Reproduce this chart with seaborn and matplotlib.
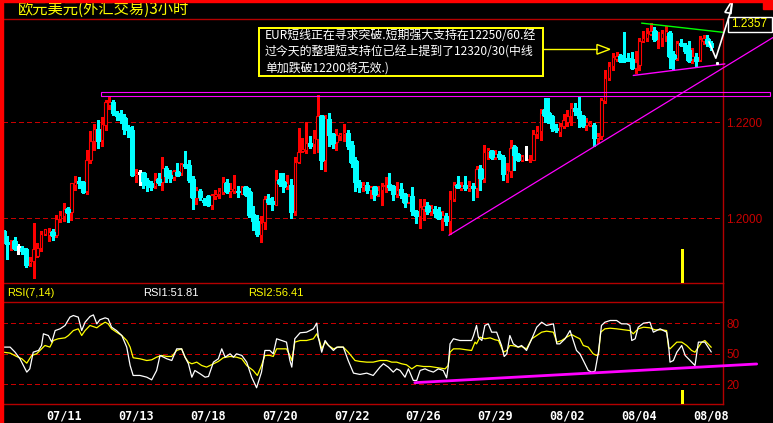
import numpy as np
import pandas as pd
import matplotlib
matplotlib.use("Agg")
import matplotlib.pyplot as plt
import seaborn as sns
from matplotlib.patches import Rectangle, Polygon
from matplotlib.lines import Line2D

# 欧元美元 3小时K线, 单位: 点 (12200 = 1.2200)
opens = [11972, 11951, 11949, 11952, 11939, 11937, 11936, 11906, 11910, 11920,
         11937, 11967, 11965, 11970, 11965, 11998, 12005, 12019, 12012, 12069,
         12078, 12074, 12056, 12120, 12160, 12186, 12163, 12193, 12236, 12242,
         12219, 12213, 12208, 12190, 12184, 12090, 12094, 12094, 12080, 12072,
         12066, 12081, 12076, 12104, 12090, 12085, 12096, 12094, 12113, 12111,
         12082, 12042, 12057, 12037, 12045, 12028, 12045, 12049, 12054, 12073,
         12056, 12056, 12056, 12051, 12065, 12054, 12009, 11993, 11964, 11991,
         12040, 12036, 12028, 12080, 12074, 12067, 12069, 12014, 12117, 12139,
         12142, 12156, 12155, 12165, 12213, 12120, 12206, 12174, 12158, 12170,
         12174, 12177, 12153, 12118, 12076, 12065, 12069, 12058, 12064, 12051,
         12058, 12066, 12069, 12066, 12051, 12061, 12049, 12034, 12045, 12015,
         12004, 12019, 12026, 12014, 12019, 12012, 12001, 12005, 11993, 12040,
         12069, 12063, 12069, 12063, 12066, 12063, 12103, 12083, 12137, 12139,
         12128, 12134, 12128, 12092, 12097, 12147, 12134, 12120, 12124, 12121,
         12121, 12176, 12181, 12226, 12219, 12212, 12188, 12179, 12191, 12201,
         12212, 12229, 12222, 12212, 12194, 12194, 12194, 12167, 12170, 12243,
         12292, 12316, 12332, 12337, 12334, 12334, 12332, 12312, 12318, 12369,
         12374, 12383, 12389, 12372, 12375, 12379, 12385, 12340, 12333, 12365,
         12361, 12350, 12331, 12335, 12330, 12368, 12372, 12365]
highs = [11974, 11963, 11955, 11960, 11946, 11942, 11936, 11918, 11990, 11948,
         11972, 11978, 11979, 11977, 12007, 12014, 12031, 12022, 12073, 12088,
         12085, 12076, 12142, 12182, 12196, 12205, 12210, 12246, 12255, 12246,
         12222, 12226, 12217, 12194, 12192, 12102, 12099, 12096, 12083, 12077,
         12094, 12094, 12127, 12109, 12101, 12101, 12115, 12115, 12140, 12121,
         12087, 12065, 12060, 12042, 12048, 12049, 12059, 12062, 12085, 12081,
         12072, 12090, 12067, 12067, 12066, 12063, 12026, 12007, 12005, 12045,
         12049, 12044, 12099, 12094, 12093, 12090, 12082, 12127, 12188, 12167,
         12200, 12170, 12184, 12257, 12215, 12215, 12219, 12177, 12185, 12177,
         12195, 12184, 12160, 12127, 12080, 12074, 12075, 12066, 12066, 12067,
         12073, 12085, 12093, 12069, 12076, 12072, 12052, 12051, 12065, 12017,
         12040, 12040, 12033, 12028, 12024, 12022, 12014, 12010, 12057, 12076,
         12088, 12074, 12088, 12078, 12072, 12109, 12110, 12153, 12146, 12142,
         12142, 12139, 12131, 12115, 12163, 12153, 12135, 12131, 12149, 12132,
         12184, 12191, 12227, 12250, 12250, 12215, 12196, 12198, 12217, 12226,
         12240, 12240, 12255, 12215, 12208, 12203, 12198, 12177, 12250, 12309,
         12326, 12344, 12346, 12342, 12388, 12344, 12346, 12347, 12375, 12389,
         12396, 12406, 12397, 12388, 12392, 12399, 12389, 12347, 12368, 12372,
         12365, 12368, 12354, 12344, 12379, 12381, 12381, 12368]
lows = [11948, 11915, 11934, 11933, 11924, 11924, 11897, 11901, 11874, 11918,
        11931, 11965, 11953, 11955, 11960, 11991, 11993, 11991, 11996, 12059,
        12062, 12052, 12051, 12115, 12141, 12146, 12151, 12184, 12227, 12215,
        12205, 12198, 12174, 12168, 12088, 12074, 12069, 12062, 12056, 12059,
        12062, 12069, 12058, 12074, 12076, 12080, 12087, 12090, 12104, 12076,
        12019, 12030, 12038, 12028, 12028, 12019, 12040, 12042, 12050, 12052,
        12044, 12052, 12044, 12049, 12045, 12002, 11976, 11962, 11951, 11978,
        12030, 12017, 12028, 12067, 12054, 12060, 12001, 12007, 12115, 12137,
        12135, 12146, 12135, 12137, 12102, 12097, 12151, 12145, 12141, 12163,
        12160, 12144, 12107, 12056, 12054, 12057, 12052, 12041, 12037, 12045,
        12027, 12055, 12059, 12037, 12043, 12042, 12022, 12031, 12007, 11989,
        11980, 11996, 12009, 12007, 12002, 11999, 11976, 11986, 11967, 12035,
        12063, 12059, 12059, 12056, 12037, 12043, 12059, 12076, 12123, 12123,
        12123, 12123, 12080, 12074, 12085, 12101, 12119, 12118, 12120, 12116,
        12121, 12167, 12163, 12201, 12198, 12182, 12180, 12170, 12188, 12191,
        12194, 12215, 12189, 12189, 12184, 12191, 12149, 12156, 12165, 12240,
        12288, 12309, 12328, 12325, 12326, 12327, 12311, 12302, 12309, 12367,
        12368, 12382, 12368, 12354, 12358, 12368, 12312, 12309, 12330, 12358,
        12344, 12326, 12323, 12314, 12328, 12362, 12358, 12351]
closes = [11949, 11946, 11953, 11937, 11939, 11931, 11903, 11910, 11935, 11937,
          11967, 11977, 11971, 11965, 11998, 12007, 12019, 12012, 12072, 12076,
          12072, 12054, 12121, 12161, 12185, 12161, 12196, 12242, 12242, 12219,
          12212, 12207, 12186, 12183, 12090, 12094, 12094, 12078, 12069, 12065,
          12080, 12076, 12104, 12087, 12083, 12097, 12090, 12113, 12109, 12080,
          12043, 12059, 12043, 12033, 12028, 12047, 12051, 12056, 12074, 12056,
          12061, 12063, 12054, 12064, 12051, 12007, 11993, 11967, 11990, 12040,
          12033, 12030, 12080, 12073, 12067, 12073, 12012, 12117, 12137, 12144,
          12156, 12151, 12167, 12213, 12120, 12208, 12172, 12156, 12172, 12176,
          12179, 12149, 12116, 12074, 12065, 12069, 12058, 12064, 12051, 12059,
          12067, 12069, 12065, 12051, 12059, 12047, 12034, 12045, 12014, 12004,
          12022, 12026, 12014, 12021, 12010, 12001, 12007, 11993, 12040, 12069,
          12065, 12067, 12063, 12066, 12062, 12103, 12083, 12137, 12141, 12128,
          12134, 12128, 12092, 12099, 12146, 12131, 12121, 12130, 12124, 12123,
          12176, 12181, 12219, 12215, 12208, 12188, 12183, 12191, 12205, 12212,
          12229, 12222, 12208, 12194, 12200, 12198, 12167, 12170, 12246, 12292,
          12316, 12335, 12337, 12328, 12328, 12330, 12312, 12324, 12368, 12376,
          12385, 12390, 12372, 12376, 12385, 12390, 12337, 12333, 12365, 12360,
          12347, 12330, 12337, 12328, 12372, 12376, 12365, 12357]

# RSI(7) 白线, RSI(14) 黄线 (按K线序号取点)
rsi1_pos = [0, 1.8, 3.1, 4.4, 6.2, 7.0, 7.9, 9.3, 10.1, 10.6,
            11.9, 12.8, 13.7, 15.0, 16.3, 17.6, 18.5, 19.8, 20.7, 21.6,
            22.9, 23.8, 24.7, 25.5, 26.9, 27.7, 28.6, 29.9, 31.3, 32.6,
            33.5, 34.3, 36.1, 37.9, 39.2, 40.5, 41.4, 42.3, 43.2, 44.5,
            45.8, 47.1, 48.0, 48.9, 49.8, 50.6, 52.0, 53.3, 54.2, 55.5,
            56.8, 57.7, 58.6, 59.9, 60.8, 61.6, 63.0, 64.3, 65.6, 66.9,
            68.2, 69.1, 70.4, 71.3, 72.2, 73.5, 74.8, 75.7, 76.2, 77.0,
            78.4, 80.1, 81.9, 82.8, 83.2, 84.1, 85.0, 85.9, 87.2, 88.1,
            89.8, 91.1, 92.5, 94.2, 96.0, 97.7, 99.5, 100.4, 101.7, 103.0,
            103.9, 104.8, 106.1, 107.0, 108.3, 109.2, 110.1, 111.4, 112.3, 113.6,
            114.9, 116.2, 117.1, 117.5, 118.0, 118.9, 120.6, 122.4, 123.7, 124.2,
            125.0, 125.5, 126.4, 127.2, 128.1, 129.0, 130.3, 131.6, 132.3, 133.0,
            133.8, 134.7, 136.0, 136.9, 138.2, 139.6, 140.9, 142.2, 143.5, 145.3,
            146.2, 147.0, 148.4, 149.7, 151.4, 152.3, 153.2, 154.5, 155.4, 156.3,
            157.2, 158.0, 158.9, 160.3, 162.0, 163.3, 164.7, 165.5, 166.0, 166.9,
            167.7, 169.1, 170.8, 171.7, 173.5, 175.2, 175.7, 176.1, 177.0, 177.9,
            179.2, 180.1, 181.4, 182.7, 183.6, 184.5, 185.3, 187.0]
rsi1 = [56.6, 56.6, 51.6, 45.1, 32.0, 35.2, 51.6, 53.3, 58.2, 69.7,
        68.0, 61.5, 72.9, 74.6, 77.9, 86.1, 87.7, 86.1, 72.9, 81.1,
        86.7, 88.3, 79.5, 83.5, 85.4, 84.4, 76.2, 72.9, 68.0, 56.6,
        38.5, 28.7, 28.7, 27.0, 24.4, 33.6, 48.4, 46.7, 45.1, 43.4,
        54.9, 54.9, 46.7, 40.2, 27.0, 33.6, 30.3, 27.0, 27.7, 41.8,
        45.1, 54.9, 46.7, 50.0, 46.7, 50.0, 48.4, 41.8, 27.0, 16.6,
        32.0, 53.3, 53.3, 50.0, 64.8, 63.1, 61.5, 43.4, 36.9, 64.8,
        70.7, 71.3, 74.6, 80.2, 66.4, 51.6, 63.1, 58.2, 53.3, 56.6,
        56.6, 43.4, 31.0, 29.7, 31.0, 28.7, 36.9, 40.2, 36.9, 32.0,
        35.2, 33.6, 27.0, 35.2, 23.8, 23.8, 33.6, 35.2, 33.6, 32.0,
        35.2, 33.6, 26.4, 36.9, 59.8, 64.8, 63.1, 63.1, 63.1, 68.0,
        77.9, 66.4, 63.1, 77.9, 79.5, 71.3, 71.3, 58.2, 47.4, 50.0,
        68.0, 59.8, 56.6, 58.2, 53.3, 64.8, 76.2, 81.1, 77.9, 79.5,
        59.8, 59.8, 64.8, 72.9, 53.3, 50.0, 43.4, 33.6, 32.0, 32.9,
        51.6, 77.9, 81.1, 82.8, 82.8, 79.5, 79.5, 77.9, 63.1, 64.8,
        76.2, 80.2, 81.1, 71.3, 74.6, 71.3, 59.8, 41.8, 43.4, 51.6,
        58.2, 48.4, 43.4, 38.5, 61.5, 61.5, 61.5, 51.81]
rsi2_pos = [0, 1.8, 3.5, 4.9, 6.2, 7.5, 8.8, 10.1, 11.0, 12.3,
            13.2, 14.5, 16.3, 17.2, 18.5, 19.8, 20.7, 21.6, 22.9, 24.7,
            25.5, 26.9, 27.7, 28.6, 29.9, 31.3, 32.6, 33.5, 34.3, 36.1,
            37.9, 39.2, 40.5, 41.8, 43.2, 44.5, 45.8, 47.1, 48.0, 48.9,
            49.8, 51.1, 52.4, 53.7, 55.5, 56.8, 58.1, 59.9, 61.6, 63.0,
            64.3, 66.0, 67.1, 68.2, 69.1, 70.4, 71.3, 72.2, 73.5, 74.8,
            75.7, 76.2, 77.0, 78.4, 80.1, 81.9, 82.8, 83.5, 84.1, 85.0,
            85.9, 87.2, 88.5, 89.8, 91.1, 92.9, 94.2, 96.0, 97.7, 99.5,
            101.3, 102.6, 103.9, 105.2, 106.5, 107.9, 109.2, 111.0, 112.7, 114.9,
            116.7, 117.5, 118.0, 118.9, 120.6, 122.4, 123.7, 124.6, 125.0, 125.9,
            127.2, 128.6, 129.9, 130.8, 132.1, 133.0, 133.8, 134.7, 136.0, 136.9,
            138.2, 139.6, 140.9, 142.2, 143.5, 145.3, 146.2, 147.5, 148.8, 150.1,
            151.4, 152.3, 153.2, 154.5, 155.8, 156.7, 157.2, 157.8, 158.9, 160.3,
            162.0, 164.2, 165.5, 166.4, 167.7, 169.1, 170.8, 172.1, 173.9, 175.2,
            175.7, 176.1, 177.9, 179.2, 180.5, 181.8, 182.7, 183.6, 184.5, 185.3,
            187.0]
rsi2 = [51.6, 50.7, 47.4, 45.1, 40.8, 48.4, 50.0, 54.9, 58.2, 56.6,
        63.1, 64.8, 65.7, 68.0, 72.9, 74.6, 68.0, 72.9, 77.9, 75.6,
        77.9, 81.1, 79.5, 74.6, 71.3, 68.0, 63.1, 56.6, 46.1, 45.1,
        43.4, 44.1, 46.7, 48.4, 47.4, 47.4, 53.3, 54.9, 46.7, 41.8,
        40.2, 41.8, 38.5, 36.9, 40.2, 42.5, 46.1, 47.4, 46.7, 45.1,
        38.5, 33.6, 28.7, 38.5, 48.4, 48.4, 47.4, 54.9, 54.9, 54.9,
        48.4, 43.4, 61.5, 63.1, 63.1, 64.8, 69.7, 63.1, 54.9, 61.5,
        58.2, 54.9, 56.6, 56.6, 51.6, 43.4, 42.5, 41.8, 41.8, 43.4,
        43.4, 41.8, 41.8, 40.2, 39.2, 35.2, 38.5, 37.5, 37.5, 36.2,
        35.2, 38.5, 51.6, 54.9, 54.9, 53.9, 53.3, 61.5, 59.8, 66.4,
        64.8, 65.7, 63.8, 63.1, 51.6, 53.3, 58.2, 57.9, 56.6, 57.2,
        54.9, 64.8, 68.0, 71.3, 72.3, 71.3, 61.5, 63.1, 66.4, 69.0,
        66.4, 64.8, 58.2, 56.6, 50.0, 48.4, 49.3, 71.3, 74.6, 75.2,
        74.6, 73.6, 72.9, 69.7, 74.6, 76.2, 75.6, 73.6, 73.6, 72.9,
        56.6, 54.9, 61.5, 61.5, 58.2, 53.3, 51.6, 56.6, 61.5, 63.1,
        56.41]

date_pos = [16, 35, 54, 73, 92, 111, 130, 149, 168, 187]
date_labels = ['07/11', '07/13', '07/18', '07/20', '07/22',
               '07/26', '07/29', '08/02', '08/04', '08/08']

# 画线 (K线序号, 点)
support_band = (25.8, 202.5, 12255, 12262)
trend_x, trend_y = [117.7, 203.3], [11964, 12376]
tri_top_x, tri_top_y = [168.6, 190.0], [12406, 12387]
tri_bot_x, tri_bot_y = [166.4, 190.6], [12297, 12321]
rsi_trend_x, rsi_trend_y = [108.7, 199.0], [21.6, 40.0]
cursor_pos = 179.3
arrow_x = [186.4, 188.2, 190.4, 192.0, 192.6]
arrow_y = [12367, 12333, 12388, 12427, 12454]

note_lines = ['EUR短线正在寻求突破.短期强大支持在12250/60.经',
              '过今天的整理短支持位已经上提到了12320/30(中线',
              '单加跌破12200将无效.)']
last_price = '1.2357'

sns.set_style('dark', {'axes.facecolor': 'black', 'figure.facecolor': 'black'})
plt.rcParams['font.family'] = ['Liberation Sans', 'DejaVu Sans']
cjk = ['Noto Sans CJK SC', 'DejaVu Sans']

W, H = 773, 423
fig = plt.figure(figsize=(W / 100, H / 100), dpi=100)
fig.patch.set_facecolor('black')
ax = fig.add_axes([3 / W, 1 - 283 / H, 720 / W, 264 / H])
ax2 = fig.add_axes([3 / W, 1 - 404 / H, 720 / W, 102 / H])

dk = '#b40000'
grid_c = '#c80000'
RED, CYAN, MAG, YEL = '#ff0000', '#00ffff', '#ff00ff', '#ffff00'

# K线: 阳线空心红, 阴线实心青, 十字星白
df = pd.DataFrame({'o': opens, 'h': highs, 'l': lows, 'c': closes}) / 10000
df['i'] = np.arange(len(df))
col = np.where(df.c > df.o, RED, np.where(df.c < df.o, CYAN, '#ffffff'))
df['col'] = col
df['bot'] = df[['o', 'c']].min(axis=1)
df['ht'] = (df.c - df.o).abs()
ax.vlines(df.i, df.l, df.h, colors=list(col), lw=0.8, zorder=2, antialiased=False)
up = df[df.c > df.o]
dn = df[df.c <= df.o]
ax.bar(up.i, up.ht, bottom=up.bot, width=0.64, color='black', edgecolor=list(up.col),
       linewidth=0.8, zorder=3)
ax.bar(dn.i, dn.ht, bottom=dn.bot, width=0.64, color=list(dn.col), edgecolor=list(dn.col),
       linewidth=0.8, zorder=3, antialiased=False)

for y in (1.20, 1.22):
    ax.axhline(y, color=grid_c, lw=0.8, ls=(0, (4, 3)), zorder=1, antialiased=False)

# 支撑线
x0, x1, lo, hi = support_band
ax.add_patch(Rectangle((x0, lo / 1e4), x1 - x0, (hi - lo) / 1e4, fill=False,
                       ec=MAG, lw=0.8, clip_on=False, zorder=4))
ax.plot(trend_x, np.array(trend_y) / 1e4, color=MAG, lw=0.9, clip_on=False, zorder=4)
ax.plot(tri_top_x, np.array(tri_top_y) / 1e4, color='#00ff00', lw=1, clip_on=False, zorder=4)
ax.plot(tri_bot_x, np.array(tri_bot_y) / 1e4, color=MAG, lw=1, clip_on=False, zorder=4)
ax.vlines(cursor_pos, 1.18646, 1.19354, color=YEL, lw=1, zorder=4, antialiased=False)

# 说明框
ax.add_patch(Rectangle((67.5, 1.22958), 75.1, 0.00994, fill=False, ec=YEL, lw=1.2, zorder=5,
                       antialiased=False))
for line, y in zip(note_lines, [1.23812, 1.23465, 1.23119]):
    ax.text(69.1, y, line, color='white', fontsize=8.6, va='center', ha='left',
            family=cjk, zorder=6)
ax.plot([142.6, 156.8], [1.23515, 1.23515], color=YEL, lw=1, zorder=5)
ax.add_patch(Polygon([(156.8, 1.23615), (160.2, 1.23515), (156.8, 1.23413)], closed=True,
                     fill=False, ec=YEL, lw=1, zorder=5))

# 最新价
ax.add_patch(Rectangle((191.4, 1.23881), 11.6, 0.00313, fc='black', ec='white', lw=1,
                       clip_on=False, zorder=6))
ax.text(192.2, 1.24037, last_price, color=YEL, fontsize=8.5, va='center', ha='left',
        clip_on=False, zorder=7)

# 手绘箭头
ax.plot(arrow_x, np.array(arrow_y) / 1e4, color='white', lw=1.2, clip_on=False, zorder=8)
ax.add_patch(Polygon([(192.6, 1.24542), (190.6, 1.24285), (192.2, 1.24265)], closed=True,
                     fill=False, ec='white', lw=1.2, clip_on=False, zorder=8))
ax.plot([188.4], [1.23235], 's', color='white', ms=1.2, clip_on=False, zorder=8)

ax.set_ylim(1.18646, 1.24146)
ax.set_yticks([1.20, 1.22])
ax.set_yticklabels(['1.2000', '1.2200'])
ax.set_xticks([])

# RSI
for y in (20, 50, 80):
    ax2.axhline(y, color=grid_c, lw=0.8, ls=(0, (4, 3)), zorder=1, antialiased=False)
sns.lineplot(x=rsi2_pos, y=rsi2, ax=ax2, color=YEL, lw=0.9, estimator=None, sort=False, zorder=2)
sns.lineplot(x=rsi1_pos, y=rsi1, ax=ax2, color='white', lw=0.9, estimator=None, sort=False, zorder=3)
ax2.plot(rsi_trend_x, rsi_trend_y, color=MAG, lw=2, clip_on=False, zorder=4)
ax2.vlines(cursor_pos, 0.6, 14.4, color=YEL, lw=1, zorder=4, antialiased=False)
ax2.set_ylim(0.6, 101)
ax2.set_yticks([20, 50, 80])
ax2.set_xticks(date_pos)
ax2.set_xticklabels(date_labels)
ax2.set_xlabel('')
ax2.set_ylabel('')
ax2.tick_params(axis='x', length=0, pad=4, labelcolor='white', labelsize=8.5)
for t in ax2.get_xticklabels():
    t.set_fontfamily('DejaVu Sans Mono')
    t.set_fontweight('bold')

for a in (ax, ax2):
    a.set_facecolor('black')
    a.grid(False)
    a.set_xlim(-0.08, 190.1)
    for s in a.spines.values():
        s.set_color(dk)
        s.set_linewidth(1)
    a.spines['left'].set_visible(False)
    a.yaxis.tick_right()
    a.tick_params(axis='y', length=0, pad=2.5, labelcolor=grid_c, labelsize=8.5)

# 边框与标题
fig.add_artist(Rectangle((0, 0), 3 / W, 1, transform=fig.transFigure, color=RED, zorder=10))
fig.add_artist(Rectangle((0, 1 - 2 / H), 1, 2 / H, transform=fig.transFigure, color=RED, zorder=10))
fig.add_artist(Rectangle((763 / W, 1 - 9 / H), 10 / W, 9 / H, transform=fig.transFigure,
                         color=RED, zorder=10))
fig.add_artist(Line2D([723 / W, 723 / W], [1 - 302 / H, 1 - 283 / H], transform=fig.transFigure,
                      color=dk, lw=1))
fig.text(18 / W, 1 - 9.5 / H, '欧元美元(外汇交易)3小时', color=YEL, fontsize=11, va='center',
         family=cjk)
fig.text(7 / W, 1 - 293 / H, 'RSI(7,14)', color=YEL, fontsize=8, va='center')
fig.text(143 / W, 1 - 293 / H, f'RSI1:{rsi1[-1]:.2f}', color='white', fontsize=8, va='center')
fig.text(248 / W, 1 - 293 / H, f'RSI2:{rsi2[-1]:.2f}', color=YEL, fontsize=8, va='center')

fig.savefig('out.png', dpi=100, facecolor='black')
